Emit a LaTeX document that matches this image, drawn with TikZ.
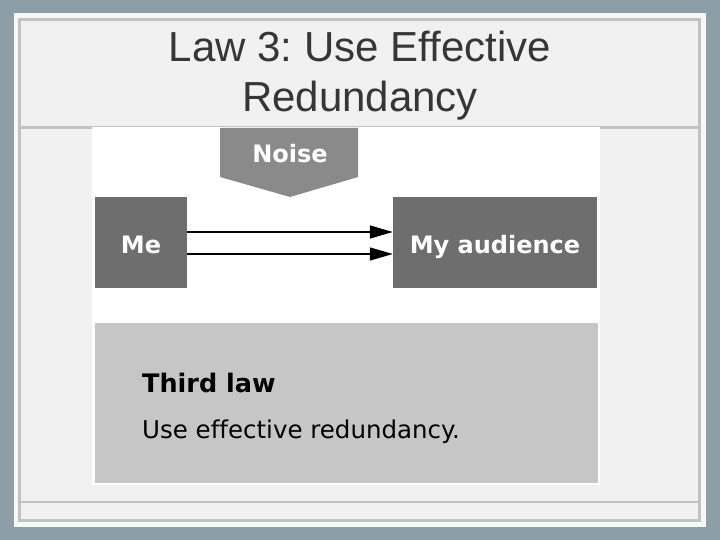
\documentclass[tikz,border=0pt]{standalone}
\usepackage{fontspec}
\setmainfont[Ligatures=CommonOff]{DejaVu Sans}
\newfontfamily\titlefont{Liberation Sans}
\usepackage{tikz}
\usetikzlibrary{arrows.meta,positioning}
\frenchspacing
\definecolor{slateback}{HTML}{8C9EA8}
\definecolor{panelwhite}{HTML}{F6F7F7}
\definecolor{panelfill}{HTML}{F1F1F1}
\definecolor{frameline}{HTML}{C2C2C0}
\definecolor{titlegray}{HTML}{363636}
\definecolor{darkdot}{HTML}{6E6E6E}
\definecolor{noisedot}{HTML}{8A8A8A}
\definecolor{lightdot}{HTML}{C6C6C6}
\tikzset{
  titleline/.style={font=\titlefont\fontsize{42}{50}\selectfont, text=titlegray,
                    anchor=base, inner sep=0pt},
  party/.style={fill=darkdot, text=white, font=\bfseries\fontsize{24}{28}\selectfont,
                minimum height=91pt, inner sep=0pt, text height=21pt, text depth=0pt},
  msg/.style={-{Triangle[length=23pt, width=13pt]}, line width=1.4pt, draw=black},
  lawbox/.style={fill=lightdot, minimum width=503pt, minimum height=160pt, inner sep=0pt},
  lawtext/.style={font=\fontsize{24.5}{28}\selectfont, text=black, anchor=base west, inner sep=0pt}
}
\begin{document}
\begin{tikzpicture}[x=1pt,y=-1pt]
  \useasboundingbox (0,0) rectangle (720,540);
  % slide frame
  \fill[slateback] (0,0) rectangle (720,540);
  \fill[panelwhite] (14,13) rectangle (706,527);
  \draw[frameline, line width=3pt, fill=panelfill] (19.5,19.5) rectangle (699.5,520);
  \draw[frameline, line width=3pt] (19.5,128) -- (699.5,128);
  \draw[frameline, line width=2pt] (19.5,501.5) -- (699.5,501.5);
  \node[titleline] (title) at (360,62) {Law 3: Use Effective};
  \node[titleline] (subtitle) at (360,112) {Redundancy};

  % the scanned figure
  \fill[white] (92,127) rectangle (600,485);
  \fill[noisedot] (220,128) -- (358,128) -- (358,177) -- (290,197) -- (220,177) -- cycle;
  \node[anchor=base, inner sep=0pt, text=white, font=\bfseries\fontsize{24}{28}\selectfont]
    (noise) at (290,163) {Noise};

  \node[party, minimum width=92pt] (me) at (141,242.5) {Me};
  \node[party, minimum width=204pt] (aud) at (495,242.5) {My audience};
  \draw[msg] ([yshift=10.5pt]me.east) -- ([yshift=10.5pt]me.east -| aud.west);
  \draw[msg] ([yshift=-11.5pt]me.east) -- ([yshift=-11.5pt]me.east -| aud.west);

  \node[lawbox] (law) at (346.5,403) {};
  \node[lawtext, font=\bfseries\fontsize{25.5}{28}\selectfont] (lawhead) at (142,392) {Third law};
  \node[lawtext] (lawbody) at (142,438) {Use effective redundancy.};
\end{tikzpicture}
\end{document}
